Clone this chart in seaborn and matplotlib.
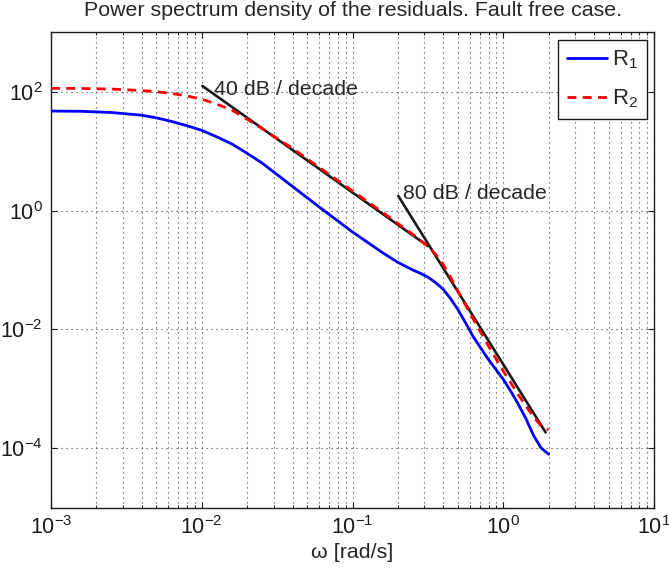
import numpy as np
import pandas as pd
import matplotlib
matplotlib.use("Agg")
import matplotlib.pyplot as plt
import matplotlib.ticker as mticker
import seaborn as sns

# ---- data ----
w_r1 = [0.001, 0.001585, 0.002512, 0.003981, 0.005012, 0.00631, 0.007943, 0.01,
        0.01259, 0.01585, 0.01995, 0.02512, 0.03981, 0.0631, 0.1, 0.1585, 0.1995,
        0.2239, 0.2512, 0.2818, 0.3162, 0.3548, 0.3981, 0.4467, 0.5012, 0.5623,
        0.631, 0.7943, 1.0, 1.122, 1.259, 1.413, 1.585, 1.778, 2.0]
psd_r1 = [47.3, 46.8, 44.7, 40.3, 36.3, 31.6, 26.9, 22.4,
          17.4, 13.2, 9.23, 6.31, 2.57, 1.047, 0.4365, 0.195, 0.1349,
          0.116, 0.100, 0.0881, 0.0759, 0.0617, 0.0479, 0.0331, 0.0214, 0.0129,
          0.00759, 0.00316, 0.001445, 0.000912, 0.00055, 0.000316, 0.000166, 0.000102, 0.0000794]

w_r2 = [0.001, 0.001585, 0.002512, 0.003981, 0.005012, 0.00631, 0.007943, 0.01,
        0.01259, 0.01585, 0.01995, 0.02512, 0.03981, 0.0631, 0.1, 0.1585, 0.1995,
        0.2512, 0.3162, 0.3548, 0.3981, 0.4467, 0.5012, 0.631, 0.7943, 1.0,
        1.259, 1.585, 1.778, 2.0]
psd_r2 = [114, 113.5, 110.9, 104.7, 100, 93.3, 85.1, 75.0,
          61.7, 49.0, 34.7, 24.0, 11.2, 4.90, 2.14, 0.933, 0.610,
          0.398, 0.251, 0.186, 0.126, 0.0759, 0.0437, 0.0151, 0.00537, 0.002,
          0.000794, 0.000339, 0.00024, 0.000204]

asym40_w = [0.0101, 0.317]
asym40_psd = [125, 0.252]
asym80_w = [0.201, 1.91]
asym80_psd = [1.77, 0.000185]

labels = ["R$_1$", "R$_2$"]
title = "Power spectrum density of the residuals. Fault free case."
xlabel = "\u03c9 [rad/s]"
ytick_vals = [1e-4, 1e-2, 1e0, 1e2]

# ---- style ----
sns.set_theme(style="ticks")
plt.rcParams["font.family"] = ["Liberation Sans", "DejaVu Sans"]
plt.rcParams["mathtext.fontset"] = "custom"
plt.rcParams["mathtext.rm"] = "Liberation Sans"
plt.rcParams["mathtext.it"] = "Liberation Sans:italic"
plt.rcParams["mathtext.bf"] = "Liberation Sans:bold"
FS = 15.4
TFS = 15.5

fig = plt.figure(figsize=(6.69, 5.72), dpi=100)
ax = fig.add_axes([51 / 669, 1 - 507.7 / 572, (654 - 51) / 669, (507.7 - 32.3) / 572])

df1 = pd.DataFrame({"w": w_r1, "psd": psd_r1})
df2 = pd.DataFrame({"w": w_r2, "psd": psd_r2})

sns.lineplot(data=df1, x="w", y="psd", ax=ax, color=(0, 0, 1), lw=2.0,
             sort=False, estimator=None, label=labels[0], zorder=3)
sns.lineplot(x=asym40_w, y=asym40_psd, ax=ax, color="k", lw=1.9,
             sort=False, estimator=None, zorder=3.5, legend=False)
sns.lineplot(x=asym80_w, y=asym80_psd, ax=ax, color="k", lw=1.9,
             sort=False, estimator=None, zorder=3.5, legend=False)
sns.lineplot(data=df2, x="w", y="psd", ax=ax, color=(1, 0, 0), lw=2.0,
             sort=False, estimator=None, label=labels[1], zorder=4)
ax.lines[-1].set_dashes([3.2, 2.3])
for ln in ax.lines:
    ln.set_solid_joinstyle("round")
    ln.set_dash_joinstyle("round")

ax.set_xscale("log")
ax.set_yscale("log")
ax.set_xlim(1e-3, 1e1)
ax.set_ylim(1e-5, 1e3)

ax.xaxis.set_major_locator(mticker.LogLocator(base=10, numticks=10))
ax.xaxis.set_minor_locator(mticker.LogLocator(base=10, subs=np.arange(2, 10), numticks=20))
ax.xaxis.set_minor_formatter(mticker.NullFormatter())
ax.set_yticks(ytick_vals)
ax.yaxis.set_minor_locator(mticker.NullLocator())

ax.tick_params(which="both", direction="in", top=True, right=True,
               labelsize=TFS, colors="k")
ax.tick_params(which="major", length=4.3, width=0.8, pad=6)
ax.tick_params(which="minor", length=2.2, width=0.7)

ax.grid(which="major", axis="both", color="0.25", linestyle=(0, (1, 3.5)), lw=0.8)
ax.grid(which="minor", axis="x", color="0.25", linestyle=(0, (1, 3.5)), lw=0.8)
ax.set_axisbelow(True)

for s in ax.spines.values():
    s.set_linewidth(1.0)
    s.set_color("k")

ax.set_title(title, fontsize=FS, pad=12)
ax.set_xlabel(xlabel, fontsize=FS, labelpad=3)
ax.set_ylabel("")

ax.text(0.0121, 87.9, "40 dB / decade", fontsize=FS, ha="left", va="baseline", zorder=5)
ax.text(0.216, 1.545, "80 dB / decade", fontsize=FS, ha="left", va="baseline", zorder=5)

leg = ax.legend(loc="upper right", fontsize=FS + 0.5, frameon=True, fancybox=False,
                edgecolor="k", framealpha=1, handlelength=1.85, handletextpad=0.2,
                borderaxespad=0.33, labelspacing=0.75, borderpad=0.4)
leg.get_frame().set_linewidth(1.0)

fig.savefig("out.png", dpi=100)
